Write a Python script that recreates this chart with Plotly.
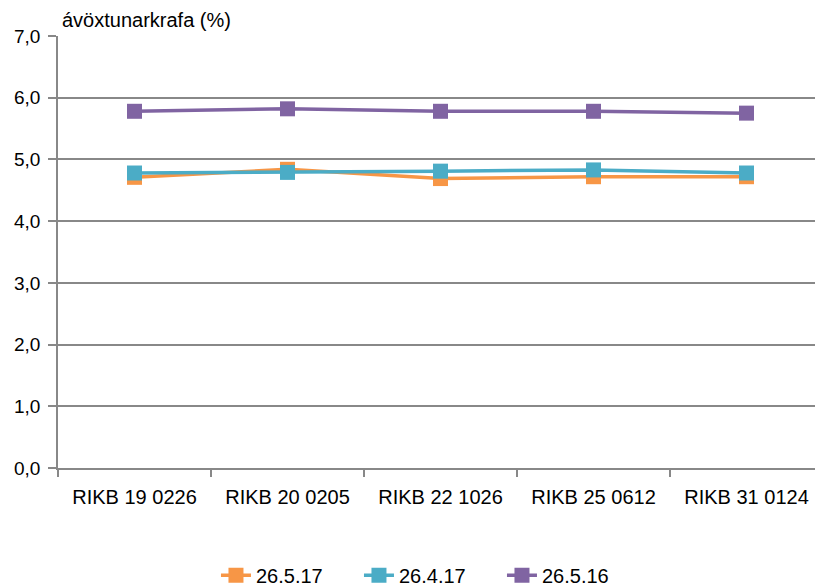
import plotly.graph_objects as go

categories = ["RIKB 19 0226", "RIKB 20 0205", "RIKB 22 1026", "RIKB 25 0612", "RIKB 31 0124"]
y_2017_05 = [4.71, 4.84, 4.69, 4.72, 4.72]
y_2017_04 = [4.78, 4.79, 4.81, 4.83, 4.78]
y_2016_05 = [5.78, 5.82, 5.78, 5.78, 5.75]
series_names = ["26.5.17", "26.4.17", "26.5.16"]
y_ticks = [0, 1, 2, 3, 4, 5, 6, 7]

colors = ["#F79646", "#4BACC6", "#8064A2"]
FONT = "Liberation Sans"

fig = go.Figure()
for name, vals, col in zip(series_names, [y_2017_05, y_2017_04, y_2016_05], colors):
    fig.add_trace(go.Scatter(
        x=categories, y=vals, name=name, mode="lines+markers",
        line=dict(color=col, width=3.5),
        marker=dict(symbol="square", size=15, color=col),
    ))

fig.update_layout(
    width=815, height=588,
    margin=dict(l=50, r=0, t=28, b=128),
    paper_bgcolor="white", plot_bgcolor="white",
    separators=", ",
    font=dict(family=FONT, size=20, color="#000000"),
    showlegend=True,
    legend=dict(orientation="h", x=0.2065, xanchor="left", y=-0.248, yanchor="middle",
                font=dict(family=FONT, size=20), entrywidth=98, entrywidthmode="pixels",
                tracegroupgap=0),
    annotations=[dict(text="ávöxtunarkrafa (%)", xref="paper", yref="paper",
                      x=0.003, y=1.037, xanchor="left", yanchor="middle",
                      showarrow=False, font=dict(family=FONT, size=20))],
)
fig.update_xaxes(
    type="category", range=[-0.5, 4.5], automargin=False,
    showline=True, linecolor="#888888", linewidth=1.5,
    ticks="outside", tickson="boundaries", ticklen=7, tickcolor="#888888", tickwidth=1.5,
    showgrid=False, ticklabelstandoff=10,
    tickfont=dict(family=FONT, size=20),
)
fig.update_yaxes(
    range=[0, 7], tickvals=y_ticks, tickformat=".1f", automargin=False,
    showline=True, linecolor="#888888", linewidth=1.5,
    ticks="outside", ticklen=8, tickcolor="#888888", tickwidth=1.5,
    showgrid=True, gridcolor="#888888", gridwidth=1.5,
    zeroline=False, ticklabelstandoff=4,
    tickfont=dict(family=FONT, size=19),
)

fig.write_html("out.html")
